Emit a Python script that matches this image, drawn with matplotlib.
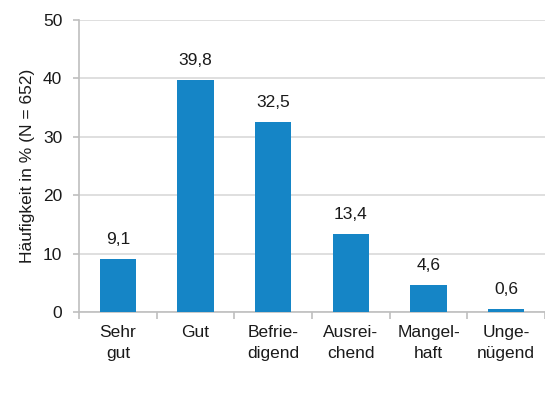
import matplotlib
matplotlib.use("Agg")
import matplotlib.pyplot as plt

categories = ["Sehr\ngut", "Gut", "Befrie-\ndigend", "Ausrei-\nchend", "Mangel-\nhaft", "Unge-\nnügend"]
values = [9.1, 39.8, 32.5, 13.4, 4.6, 0.6]
value_labels = ["9,1", "39,8", "32,5", "13,4", "4,6", "0,6"]
yticks = [0, 10, 20, 30, 40, 50]

plt.rcParams["font.family"] = ["Liberation Sans", "DejaVu Sans"]

fig = plt.figure(figsize=(5.45, 4.05), dpi=100)
ax = fig.add_axes([0.145, 0.2296, 0.855, 0.721])

bar_color = "#1585c6"
grid_color = "#d9d9d9"
axis_color = "#bfbfbf"
text_color = "#1a1a1a"
fs = 12.5

x = list(range(len(categories)))
ax.bar(x, values, width=0.47, color=bar_color, zorder=3)
for xi, v, lab in zip(x, values, value_labels):
    ax.annotate(lab, (xi, v), xytext=(0, 8.5), textcoords="offset points",
                ha="center", va="bottom", fontsize=fs, color=text_color)

ax.set_xlim(-0.5, len(categories) - 0.5)
ax.set_ylim(0, 50)
ax.set_yticks(yticks)
ax.set_yticklabels([str(t) for t in yticks], fontsize=fs, color=text_color)
ax.yaxis.grid(True, color=grid_color, linewidth=1.2, zorder=0)
ax.set_axisbelow(True)

# Category labels centred under bars, ticks at category boundaries
ax.set_xticks(x)
ax.set_xticklabels(categories, fontsize=fs, color=text_color, linespacing=1.5)
ax.tick_params(axis="x", which="major", length=0, pad=9)
ax.set_xticks([i - 0.5 for i in range(len(categories) + 1)], minor=True)
ax.tick_params(axis="x", which="minor", length=5, color=axis_color, width=1.2)
ax.tick_params(axis="y", length=4, color=axis_color, width=1.2, pad=8)

for side in ["top", "right"]:
    ax.spines[side].set_visible(False)
for side in ["left", "bottom"]:
    ax.spines[side].set_color(axis_color)
    ax.spines[side].set_linewidth(1.2)

ax.set_ylabel("Häufigkeit in % (N = 652)", fontsize=fs, color=text_color, labelpad=6)

fig.savefig("out.png", dpi=100)
